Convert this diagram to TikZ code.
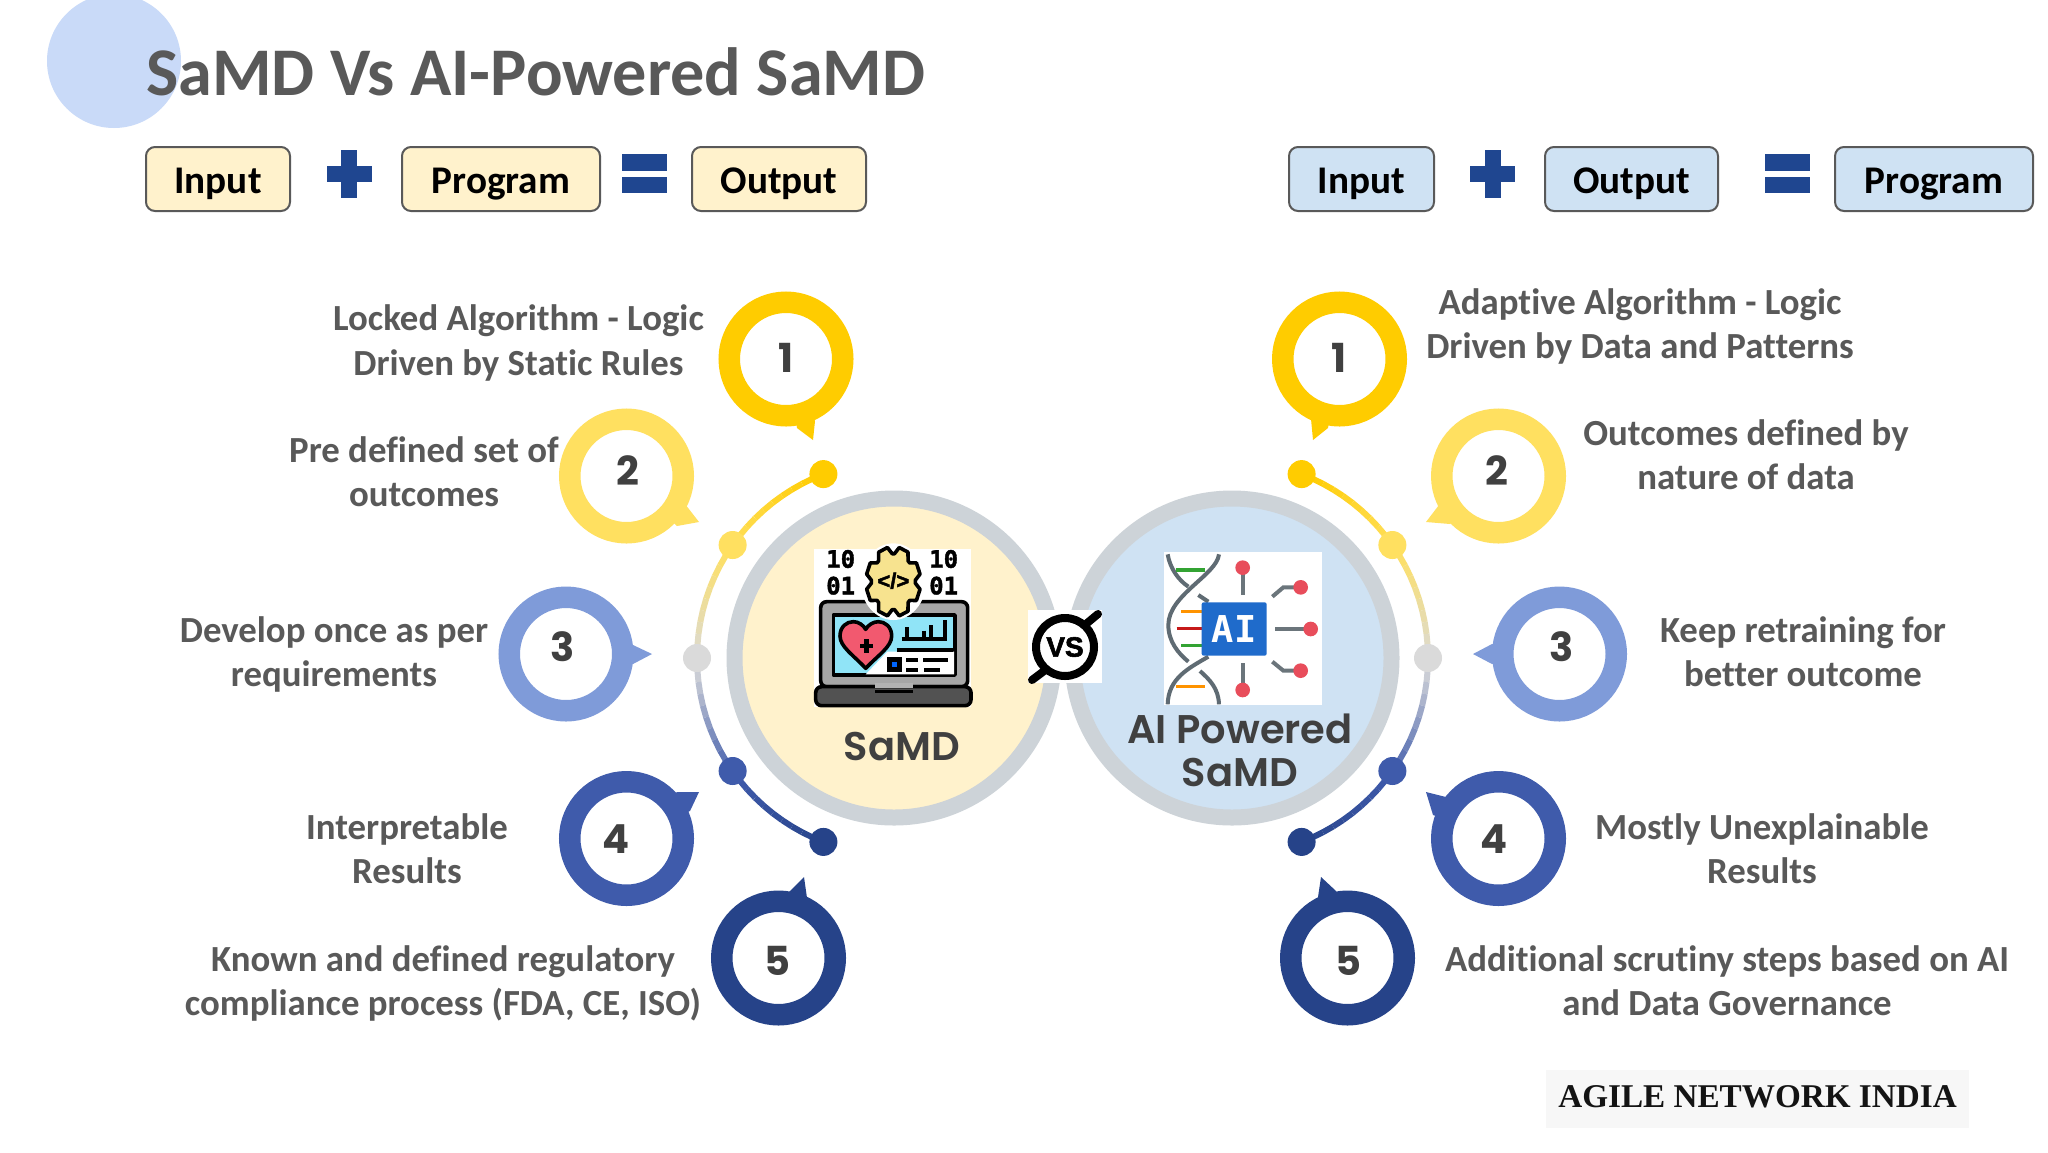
\documentclass[tikz,border=0pt]{standalone}
\usepackage{fontspec}
\setmainfont[Ligatures=CommonOff]{Carlito}
\newfontfamily\popfont{Poppins}
\newfontfamily\popsemi{Poppins SemiBold}
\newfontfamily\heavyfont[BoldFeatures={FakeBold=2}]{Liberation Sans}
\newfontfamily\footfont{Liberation Serif}
\newfontfamily\codefont{DejaVu Sans Mono}
\newfontfamily\bitfont[BoldFeatures={FakeBold=1.5}]{DejaVu Sans Mono}
\usetikzlibrary{positioning, shapes.geometric}

\definecolor{ringa}{HTML}{FFCC00}
\definecolor{ringb}{HTML}{FFE060}
\definecolor{ringc}{HTML}{7F9BD9}
\definecolor{ringd}{HTML}{3F5BAB}
\definecolor{ringe}{HTML}{264389}
\definecolor{midgrey}{HTML}{DADADA}
\definecolor{haloline}{HTML}{CDD3D8}
\definecolor{creamfill}{HTML}{FFF2CC}
\definecolor{skyfill}{HTML}{CFE2F3}
\definecolor{headblob}{HTML}{C9DAF8}
\definecolor{textgrey}{HTML}{595959}
\definecolor{darktext}{HTML}{404040}
\definecolor{signblue}{HTML}{1F4690}
\definecolor{heartred}{HTML}{F2596F}
\definecolor{screencyan}{HTML}{90E4F7}
\definecolor{gearyellow}{HTML}{F7E38F}
\definecolor{strandgrey}{HTML}{5F6B73}
\definecolor{spokegrey}{HTML}{6B757B}
\definecolor{tipred}{HTML}{E84D5B}
\definecolor{aiblue}{HTML}{1F6BCB}

\begin{document}
\begin{tikzpicture}[
    x=0.5pt, y=-0.5pt,
    eqbox/.style={rectangle, draw=textgrey, line width=1pt, rounded corners=4.5pt, minimum height=32pt, inner sep=0pt, outer sep=0pt, text height=14pt, text depth=0pt, font=\bfseries\fontsize{19.6}{22}\selectfont},
    hub/.style={circle, draw=haloline, line width=8pt, minimum size=159.5pt, inner sep=0pt, outer sep=0pt},
    ring/.style={circle, line width=10.75pt, fill=white, minimum size=56.75pt, inner sep=0pt, outer sep=0pt},
    numtext/.style={font=\popfont\bfseries\fontsize{20}{24}\selectfont, text=darktext, inner sep=0pt},
    stepnote/.style={align=center, text=textgrey, inner sep=0pt, font=\bfseries\fontsize{18.4}{22.2}\selectfont},
    hubtitle/.style={align=center, text=darktext, inner sep=0pt, font=\popsemi\fontsize{20}{21.5}\selectfont},
    dotmark/.style={circle, minimum size=14pt, inner sep=0pt, outer sep=0pt},
    icondraw/.style={draw=black, line width=1.8pt, line join=round}
]
\useasboundingbox (0,0) rectangle (2048,1152);
\fill[white] (0,0) rectangle (2048,1152);

% Title
\node[circle, fill=headblob, minimum size=67pt, inner sep=0pt] (blob) at (114,61) {};
\node[anchor=west, inner sep=0pt, text=textgrey, font=\bfseries\fontsize{34.1}{36}\selectfont] (title) at (146,72) {SaMD Vs AI-Powered SaMD};

% Equation rows
\node[eqbox, fill=creamfill, minimum width=72pt] (linput) at (218,179) {Input};
\node[eqbox, fill=creamfill, minimum width=99pt, right=56pt of linput] (lprogram) {Program};
\node[eqbox, fill=creamfill, minimum width=87pt, right=46pt of lprogram] (loutput) {Output};
\node[eqbox, fill=skyfill, minimum width=72.5pt] (rinput) at (1361.5,179) {Input};
\node[eqbox, fill=skyfill, minimum width=86.5pt, right=55.5pt of rinput] (routput) {Output};
\node[eqbox, fill=skyfill, minimum width=99pt, right=58.5pt of routput] (rprogram) {Program};

\foreach \px in {349,1492.5}{
    \fill[signblue] (\px-8,150) rectangle (\px+8,198);
    \fill[signblue] (\px-22.5,166) rectangle (\px+22.5,182);
}
\foreach \qx in {622,1765}{
    \fill[signblue] (\qx,154) rectangle (\qx+45,171);
    \fill[signblue] (\qx,177) rectangle (\qx+45,193);
}

% Hubs
\node[hub, fill=creamfill] (samd) at (894,658) {};
\node[hub, fill=skyfill] (aisamd) at (1232,658) {};

% Arcs from dot to dot
\foreach \cx/\sgn/\side in {894/-1/l,1231/1/r}{
    \foreach \ta/\tb/\ca/\cb in {-69/-35/ringa/ringb, -35/0/ringb/midgrey, 0/35/midgrey/ringd, 35/69/ringd/ringe}{
        \foreach \p in {0,10,...,90}{
            \pgfmathsetmacro\aone{\ta+(\tb-\ta)*\p/100}
            \pgfmathsetmacro\atwo{\ta+(\tb-\ta)*(\p+10)/100}
            \draw[\cb!\p!\ca, line width=3pt] ({\cx+\sgn*197*cos(\aone)},{658+197*sin(\aone)}) -- ({\cx+\sgn*197*cos(\atwo)},{658+197*sin(\atwo)});
        }
    }
    \foreach \ang/\col/\i in {-69/ringa/1,-35/ringb/2,0/midgrey/3,35/ringd/4,69/ringe/5}{
        \node[dotmark, fill=\col] (\side dot\i) at ({\cx+\sgn*197*cos(\ang)},{658+197*sin(\ang)}) {};
    }
}

% Numbered rings with their tails
\foreach \side/\i/\col/\rx/\ry/\ax/\ay/\tx/\ty/\bx/\by/\nx/\ny in {
    l/1/ringa/786/359/797/428/813/440/815/421/786/358,
    l/2/ringb/626.5/476/685/504/699/522/677/526/628/470.5,
    l/3/ringc/566/654/633/645/652/654/633/664/563/646.5,
    l/4/ringd/626.5/838.5/677/792/699/792/690/811/616/839.5,
    l/5/ringe/778.5/958/789/892/804/877/807/898/777/960.5,
    r/1/ringa/1339.5/359/1311/419/1313/440/1328/428/1339/358,
    r/2/ringb/1498.5/476/1442/501/1426/522/1450/524/1497/470.5,
    r/3/ringc/1559.5/654/1492/644/1473/654/1492/664/1562/646.5,
    r/4/ringd/1498.5/838.5/1446/797/1426/792/1433/815/1494/839.5,
    r/5/ringe/1347.5/958/1336/891/1321/877/1318/897/1348/960.5}{
    \fill[\col] (\ax,\ay) -- (\tx,\ty) -- (\bx,\by) -- (\rx,\ry) -- cycle;
    \node[ring, draw=\col] (\side ring\i) at (\rx,\ry) {};
    \node[numtext] (\side num\i) at (\nx,\ny) {\i};
}

% Step notes, left
\node[stepnote] (lnote1) at (518.5,343) {Locked Algorithm - Logic\\Driven by Static Rules};
\node[stepnote] (lnote2) at (424,471.5) {Pre defined set of\\outcomes};
\node[stepnote] (lnote3) at (334,654.5) {Develop once as per\\requirements};
\node[stepnote] (lnote4) at (407,849) {Interpretable\\Results};
\node[stepnote] (lnote5) at (443,983.5) {Known and defined regulatory\\compliance process (FDA, CE, ISO)};

% Step notes, right
\node[stepnote] (rnote1) at (1640,326.5) {Adaptive Algorithm - Logic\\Driven by Data and Patterns};
\node[stepnote] (rnote2) at (1746,455) {Outcomes defined by\\nature of data};
\node[stepnote] (rnote3) at (1803,652) {Keep retraining for\\better outcome};
\node[stepnote] (rnote4) at (1762,849) {Mostly Unexplainable\\Results};
\node[stepnote] (rnote5) at (1727,981) {Additional scrutiny steps based on AI\\and Data Governance};

% Laptop icon
\begin{scope}[shift={(800,540)}, scale=1/3]
    \fill[white] (43,28) rectangle (513,500);
    \draw[icondraw, fill=gray!70, rounded corners=3pt] (62,440) -- (62,185) -- (503,185) -- (503,440) -- cycle;
    \draw[icondraw, fill=screencyan] (100,225) rectangle (465,405);
    \fill[white] (462,335) -- (262,335) -- (197,403) -- (462,403) -- cycle;
    \draw[icondraw, fill=black!68, rounded corners=3pt] (47,440) rectangle (513,497);
    \fill[gray!60] (225,428) rectangle (340,444);
    \draw[line width=1.2pt] (225,455) -- (340,455);
    \draw[icondraw, fill=heartred] (197,385) .. controls (160,345) and (120,320) .. (120,288) .. controls (120,260) and (140,245) .. (160,245) .. controls (175,245) and (190,255) .. (197,268) .. controls (204,255) and (220,245) .. (235,245) .. controls (255,245) and (275,260) .. (275,288) .. controls (275,320) and (235,345) .. (197,385) -- cycle;
    \draw[line width=2.4pt] (200,298) -- (200,338) (180,318) -- (220,318);
    \draw[line width=1.9pt] (305,298) -- (442,298) (322,262) -- (322,298) (372,272) -- (372,298) (392,255) -- (392,298) (436,240) -- (436,298);
    \draw[line width=1.9pt] (290,330) -- (460,330);
    \fill[black] (260,352) rectangle (305,397);
    \fill[blue!60!cyan] (275,367) rectangle (290,382);
    \draw[line width=1.9pt] (318,360) -- (355,360) (370,360) -- (445,360) (318,390) -- (355,390);
    \draw[line width=1.9pt, dash pattern=on 8pt off 10pt] (372,390) -- (445,390);
    \fill[white] (280,125) ellipse (98 and 115);
    \draw[icondraw, fill=gearyellow] (280+82*cos 12.5,125+105*sin 12.5) \foreach \k in {0,...,7}{
        -- ({280+82*cos(12.5+\k*45)},{125+105*sin(12.5+\k*45)})
        -- ({280+82*cos(32.5+\k*45)},{125+105*sin(32.5+\k*45)})
        -- ({280+66*cos(42+\k*45)},{125+84*sin(42+\k*45)})
        -- ({280+66*cos(48+\k*45)},{125+84*sin(48+\k*45)})
    } -- cycle;
    \node[inner sep=0pt, font=\heavyfont\bfseries\fontsize{11}{13}\selectfont] (codetag) at (280,122) {</>};
    \foreach \dx/\dy/\bits/\i in {122/57/10/1,122/137/01/2,431/57/10/3,431/137/01/4}{
        \node[inner sep=0pt, font=\bitfont\bfseries\fontsize{12}{15}\selectfont] (bits\i) at (\dx,\dy) {\bits};
    }
\end{scope}

% DNA and AI icon
\begin{scope}[shift={(1155,545)}, scale=1/3]
    \fill[white] (27,22) rectangle (500,480);
    \draw[strandgrey, line width=2pt] (38,28) .. controls (45,70) and (70,105) .. (100,125);
    \draw[strandgrey, line width=2pt] (130,150) -- (160,170);
    \draw[strandgrey, line width=2pt] (192,28) .. controls (185,90) and (40,150) .. (40,240) .. controls (40,290) and (70,325) .. (100,350);
    \draw[strandgrey, line width=2pt] (160,335) .. controls (100,370) and (40,400) .. (38,478);
    \draw[strandgrey, line width=2pt] (135,378) .. controls (165,405) and (190,430) .. (192,478);
    \foreach \ya/\xa/\xb/\col in {75/62/150/green!55!black!80, 200/78/140/orange!85!yellow, 250/65/140/red!75!black!90, 302/78/140/green!55!black!80, 425/62/150/orange!85!yellow}{
        \draw[\col, line width=1.7pt] (\xa,\ya) -- (\xb,\ya);
    }
    \fill[aiblue, rounded corners=1pt] (140,172) rectangle (335,332);
    \node[inner sep=0pt, text=white, font=\codefont\bfseries\fontsize{18.5}{20}\selectfont] (aitag) at (237,252) {AI};
    \draw[spokegrey, line width=2pt] (263,70) -- (263,150) (263,355) -- (263,435) (360,252) -- (465,252);
    \draw[spokegrey, line width=2pt] (352,155) -- (385,127) -- (435,127) (352,350) -- (385,377) -- (435,377);
    \foreach \dx/\dy in {263/68,263/435,467/252,437/127,437/377}{
        \fill[tipred] (\dx,\dy) circle (22);
    }
\end{scope}

% Hub titles
\node[hubtitle] (samdtitle) at (902,747) {SaMD};
\node[hubtitle] (aititle) at (1240,750) {AI Powered\\SaMD};

% VS badge
\fill[white] (1028,610) rectangle (1102,683);
\draw[line width=4pt, line cap=round] (1098,614) -- (1086,624) (1032,680) -- (1044,671);
\node[circle, draw=black, line width=4pt, fill=white, minimum size=29pt, inner sep=0pt, outer sep=0pt] (vsring) at (1065,647) {};
\node[inner sep=0pt, font=\heavyfont\bfseries\fontsize{14}{16}\selectfont] (vstag) at (1065,647) {VS};

% Footer
\node[fill=black!3, minimum width=211.5pt, minimum height=29pt, inner sep=0pt, text depth=2.6pt, font=\footfont\bfseries\fontsize{16.6}{20}\selectfont, text=black!92] (footer) at (1757.5,1099) {AGILE NETWORK INDIA};

\end{tikzpicture}
\end{document}
